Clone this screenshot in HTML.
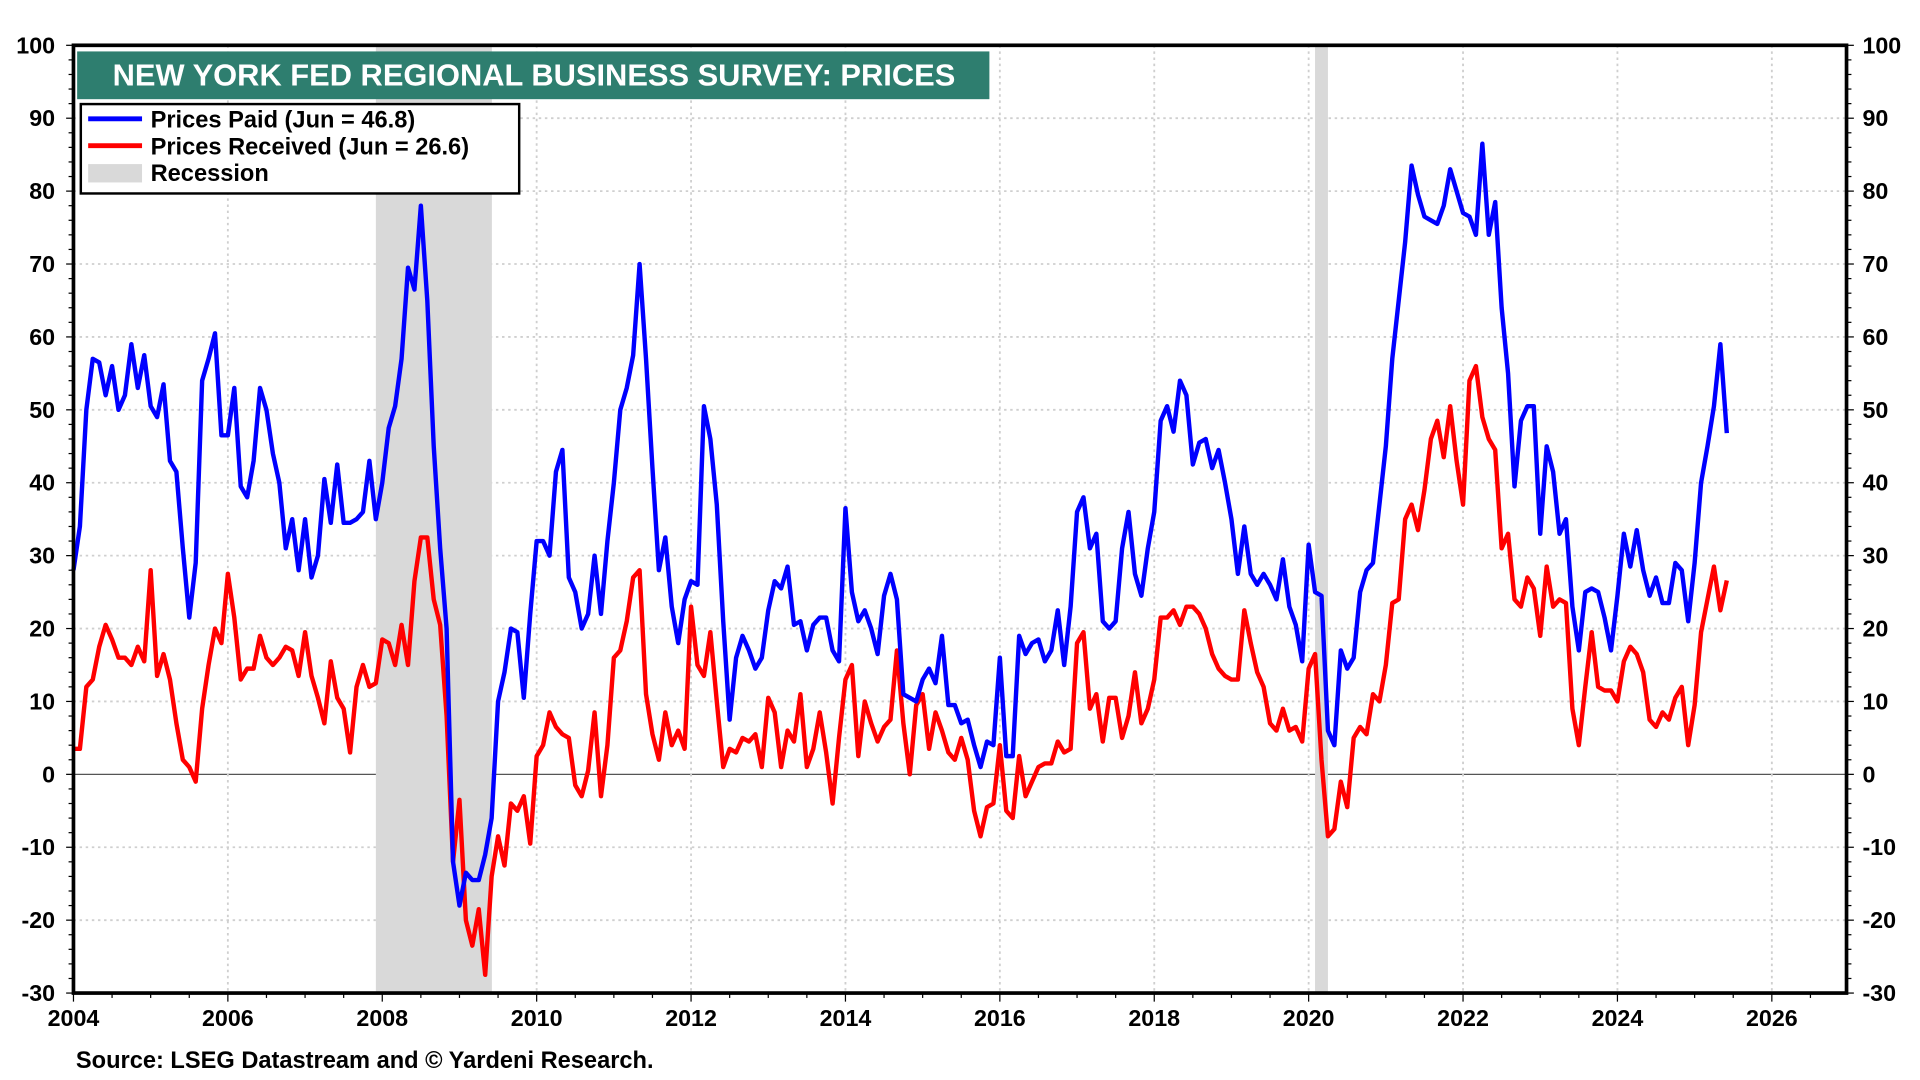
<!DOCTYPE html>
<html><head><meta charset="utf-8"><style>
html,body{margin:0;padding:0;background:#fff;}
#wrap{width:1920px;height:1080px;position:relative;overflow:hidden;}
svg text{font-family:"Liberation Sans",Arial,sans-serif;font-weight:bold;}
</style></head><body>
<div id="wrap">
<svg id="chart" width="1920" height="1080" viewBox="0 0 1568 882" preserveAspectRatio="none" xmlns="http://www.w3.org/2000/svg">
<g id="grid"></g>
<g id="rec"></g>
<g id="series"></g>
<g id="axes"></g>
<rect x="63" y="42" width="745" height="39" fill="#2e7e6f"/>
<text x="92" y="70" font-size="25.2" fill="#fff">NEW YORK FED REGIONAL BUSINESS SURVEY: PRICES</text>
<g>
<rect x="66" y="85" width="358" height="73" fill="#fff" stroke="#000" stroke-width="2"/>
<g><line x1="72" y1="97" x2="116" y2="97" stroke="#0000ff" stroke-width="4"/><text x="123" y="104" font-size="19.3">Prices Paid (Jun = 46.8)</text></g>
<g><line x1="72" y1="119" x2="116" y2="119" stroke="#ff0000" stroke-width="4"/><text x="123" y="126" font-size="19.3">Prices Received (Jun = 26.6)</text></g>
<g><rect x="72" y="134" width="44" height="15" fill="#d9d9d9"/><text x="123" y="148" font-size="19.3">Recession</text></g>
</g>
<text x="62" y="872" font-size="19.3">Source: LSEG Datastream and © Yardeni Research.</text>
</svg>
</div>
<script>
const startYear = 2004;
const paid = [
28,34,50,57,56.5,52,56,50,52,59,53,57.5,
50.5,49,53.5,43,41.5,31,21.5,29,54,57,60.5,46.5,
46.5,53,39.5,38,43,53,50,44,40,31,35,28,
35,27,30,40.5,34.5,42.5,34.5,34.5,35,36,43,35,
40,47.5,50.5,57,69.5,66.5,78,65,45,31,20,-12,
-18,-13.5,-14.5,-14.5,-11,-6,10,14,20,19.5,10.5,22,
32,32,30,41.5,44.5,27,25,20,22,30,22,32,
40,50,53,57.5,70,57,42,28,32.5,23,18,24,
26.5,26,50.5,46,37,21,7.5,16,19,17,14.5,16,
22.5,26.5,25.5,28.5,20.5,21,17,20.5,21.5,21.5,17,15.5,
36.5,25,21,22.5,20,16.5,24.5,27.5,24,11,10.5,10,
13,14.5,12.5,19,9.5,9.5,7,7.5,4,1,4.5,4,
16,2.5,2.5,19,16.5,18,18.5,15.5,17,22.5,15,23,
36,38,31,33,21,20,21,31,36,27.5,24.5,31,
36,48.5,50.5,47,54,52,42.5,45.5,46,42,44.5,40,
35,27.5,34,27.5,26,27.5,26,24,29.5,23,20.5,15.5,
31.5,25,24.5,6,4,17,14.5,16,25,28,29,37,
45,57,65,73,83.5,79.5,76.5,76,75.5,78,83,80,
77,76.5,74,86.5,74,78.5,64,55,39.5,48.5,50.5,50.5,
33,45,41.5,33,35,23,17,25,25.5,25,21.5,17,
24.5,33,28.5,33.5,28,24.5,27,23.5,23.5,29,28,21,
29,40,45,50.5,59,46.8];
const received = [
3.5,3.5,12,13,17.5,20.5,18.5,16,16,15,17.5,15.5,
28,13.5,16.5,13,7,2,1,-1,9,15,20,18,
27.5,21.5,13,14.5,14.5,19,16,15,16,17.5,17,13.5,
19.5,13.5,10.5,7,15.5,10.5,9,3,12,15,12,12.5,
18.5,18,15,20.5,15,26.5,32.5,32.5,24,20.5,8,-12,
-3.5,-20,-23.5,-18.5,-27.5,-14,-8.5,-12.5,-4,-5,-3,-9.5,
2.5,4,8.5,6.5,5.5,5,-1.5,-3,0.5,8.5,-3,4,
16,17,21,27,28,11,5.5,2,8.5,4,6,3.5,
23,15,13.5,19.5,10,1,3.5,3,5,4.5,5.5,1,
10.5,8.5,1,6,4.5,11,1,3.5,8.5,3,-4,5,
13,15,2.5,10,7,4.5,6.5,7.5,17,7,0,9.5,
11,3.5,8.5,6,3,2,5,2,-5,-8.5,-4.5,-4,
4,-5,-6,2.5,-3,-1,1,1.5,1.5,4.5,3,3.5,
18,19.5,9,11,4.5,10.5,10.5,5,8,14,7,9,
13,21.5,21.5,22.5,20.5,23,23,22,20,16.5,14.5,13.5,
13,13,22.5,18,14,12,7,6,9,6,6.5,4.5,
14.5,16.5,2,-8.5,-7.5,-1,-4.5,5,6.5,5.5,11,10,
15,23.5,24,35,37,33.5,39,46,48.5,43.5,50.5,43,
37,54,56,49,46,44.5,31,33,24,23,27,25.5,
19,28.5,23,24,23.5,9,4,12,19.5,12,11.5,11.5,
10,15.5,17.5,16.5,14,7.5,6.5,8.5,7.5,10.5,12,4,
9.5,19.5,24,28.5,22.5,26.6];
const yTicks = [100,90,80,70,60,50,40,30,20,10,0,-10,-20,-30];
const xTicks = [2004,2006,2008,2010,2012,2014,2016,2018,2020,2022,2024,2026];
const recessions = [[2007.917,2009.42],[2020.083,2020.25]];

const L=60,R=1508,T=37,B=811;
const x = t => L + (t-2004)*(1447-60)/22;
const y = v => T + (100-v)*(B-T)/130;
const NS="http://www.w3.org/2000/svg";
function mk(tag, parent, attrs){const e=document.createElementNS(NS,tag);for(const k in attrs)e.setAttribute(k,attrs[k]);parent.appendChild(e);return e;}
const grid=document.getElementById('grid'), axes=document.getElementById('axes'), rec=document.getElementById('rec'), ser=document.getElementById('series');

yTicks.forEach(v=>{
  if(v!==100 && v!==-30){
    const g=mk('line',grid,{x1:L,x2:R,y1:y(v),y2:y(v),stroke:v===0?'#555':'#cfcfcf','stroke-width':v===0?1:1.5,'stroke-dasharray':v===0?'none':'2,3'});
    
    
  }
  const t1=mk('text',axes,{x:45,y:y(v)+6.5,'font-size':19,'text-anchor':'end'});t1.textContent=v;
  
  
  const t2=mk('text',axes,{x:1521,y:y(v)+6.5,'font-size':19,'text-anchor':'start'});t2.textContent=v;
  
  
});
for(let v=-30;v<=100;v+=2){
  const big=v%10===0;
  mk('line',axes,{x1:L-(big?6:4),x2:L,y1:y(v),y2:y(v),stroke:'#000','stroke-width':1});
  mk('line',axes,{x1:R,x2:R+(big?6:4),y1:y(v),y2:y(v),stroke:'#000','stroke-width':1});
}
xTicks.forEach(t=>{
  if(t>2004){
    const g=mk('line',grid,{x1:x(t),x2:x(t),y1:T,y2:B,stroke:'#cfcfcf','stroke-width':1.5,'stroke-dasharray':'2,3'});
    
    
  }
  const tl=mk('text',axes,{x:x(t),y:838,'font-size':19,'text-anchor':'middle'});tl.textContent=t;
  
  
});
for(let t=2004;t<=2027;t+=0.5){
  const big=Math.abs(t%2)<0.01;
  if(x(t)<=R) mk('line',axes,{x1:x(t),x2:x(t),y1:B,y2:B+(big?7:4),stroke:'#000','stroke-width':1});
}
recessions.forEach(r=>{
  const e=mk('rect',rec,{x:x(r[0]),y:T,width:x(r[1])-x(r[0]),height:B-T,fill:'#d9d9d9'});
  
  
});
function line(arr,color,name){
  const pts=arr.map((v,i)=>x(startYear+i/12).toFixed(2)+','+y(v).toFixed(2)).join(' ');
  const p=mk('polyline',ser,{points:pts,fill:'none',stroke:color,'stroke-width':3.6,'stroke-linejoin':'round'});
  
  
}
line(received,'#ff0000','prices-received-line');
line(paid,'#0000ff','prices-paid-line');
const fr=mk('rect',axes,{x:L,y:T,width:R-L,height:B-T,fill:'none',stroke:'#000','stroke-width':3});


</script>
</body></html>
